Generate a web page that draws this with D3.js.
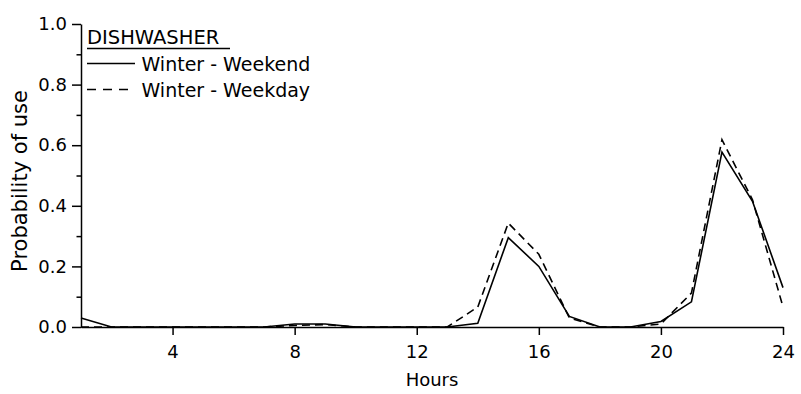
<!DOCTYPE html>
<html>
<head>
<meta charset="utf-8">
<script src="https://cdn.jsdelivr.net/npm/d3@7"></script>
<style>
  body { margin: 0; background: #fff; }
  svg { font-family: "DejaVu Sans", sans-serif; }
</style>
</head>
<body>
<div id="chart"></div>
<script>
// data
var hours = [1, 2, 3, 4, 5, 6, 7, 8, 9, 10, 11, 12, 13, 14, 15, 16, 17, 18, 19, 20, 21, 22, 23, 24];
var weekend = [0.03, 0, 0, 0, 0, 0, 0, 0.01, 0.01, 0, 0, 0, 0, 0.012, 0.295, 0.2, 0.035, 0, 0, 0.018, 0.083, 0.577, 0.415, 0.13];
var weekday = [0, 0, 0, 0, 0, 0, 0, 0.005, 0.008, 0, 0, 0, 0, 0.066, 0.343, 0.24, 0.03, 0, 0, 0.01, 0.112, 0.618, 0.42, 0.066];
var xTicks = [4, 8, 12, 16, 20, 24];
var yTicks = [0, 0.2, 0.4, 0.6, 0.8, 1.0];
var yMinor = [0.1, 0.3, 0.5, 0.7, 0.9];

// set the dimensions and margins of the graph
var margin = { top: 24, right: 18, bottom: 67, left: 81 },
  width = 801 - margin.left - margin.right,
  height = 394 - margin.top - margin.bottom;

var svg = d3.select("#chart")
  .append("svg")
  .attr("width", 801)
  .attr("height", 394)
  .append("g")
  .attr("transform", "translate(" + margin.left + "," + margin.top + ")");

var x = d3.scaleLinear().domain([1, 24]).range([0, width]);
var y = d3.scaleLinear().domain([0, 1]).range([height, 0]);

// minor y ticks
svg.append("g")
  .call(d3.axisLeft(y).tickValues(yMinor).tickSize(4.5).tickFormat("").tickSizeOuter(0))
  .call(g => g.select(".domain").remove())
  .selectAll("line").attr("stroke-width", 1.5);

// y axis
var yAxis = svg.append("g")
  .call(d3.axisLeft(y).tickValues(yTicks).tickSize(9).tickPadding(5)
    .tickFormat(d3.format(".1f")).tickSizeOuter(0));
yAxis.selectAll("text").attr("font-size", 18).attr("font-family", "DejaVu Sans").attr("fill", "#000");
yAxis.selectAll("line").attr("stroke-width", 1.5);
yAxis.select(".domain").attr("stroke-width", 1.5);

// x axis
var xAxis = svg.append("g")
  .attr("transform", "translate(0," + height + ")")
  .call(d3.axisBottom(x).tickValues(xTicks).tickSize(8).tickPadding(10).tickSizeOuter(0));
xAxis.selectAll("text").attr("font-size", 18).attr("font-family", "DejaVu Sans").attr("fill", "#000");
xAxis.selectAll("line").attr("stroke-width", 1.5);
xAxis.select(".domain").attr("stroke-width", 1.5);

// axis titles
svg.append("text")
  .attr("x", width / 2)
  .attr("y", height + 59)
  .attr("text-anchor", "middle")
  .attr("font-size", 18)
  .text("Hours");

svg.append("text")
  .attr("transform", "translate(" + (26.5 - margin.left) + "," + (181 - margin.top) + ") rotate(-90)")
  .attr("text-anchor", "middle")
  .attr("font-size", 21)
  .text("Probability of use");

// lines
var line = d3.line()
  .x(function (d) { return x(d[0]); })
  .y(function (d) { return y(d[1]); });

svg.append("path")
  .datum(d3.zip(hours, weekday))
  .attr("d", line)
  .attr("fill", "none")
  .attr("stroke", "#000")
  .attr("stroke-width", 1.6)
  .attr("stroke-dasharray", "8,5");

svg.append("path")
  .datum(d3.zip(hours, weekend))
  .attr("d", line)
  .attr("fill", "none")
  .attr("stroke", "#000")
  .attr("stroke-width", 1.6);

// legend
var legend = svg.append("g").attr("transform", "translate(6,0)");
legend.append("text")
  .attr("x", 0)
  .attr("y", 20)
  .attr("font-size", 19.5)
  .text("DISHWASHER");
legend.append("line")
  .attr("x1", 0).attr("x2", 143)
  .attr("y1", 24.5).attr("y2", 24.5)
  .attr("stroke", "#000").attr("stroke-width", 1.5);

var items = [["Winter - Weekend", null], ["Winter - Weekday", "9,7"]];
items.forEach(function (it, i) {
  var yy = 39.5 + i * 26;
  legend.append("line")
    .attr("x1", 0).attr("x2", 48)
    .attr("y1", yy).attr("y2", yy)
    .attr("stroke", "#000").attr("stroke-width", 1.5)
    .attr("stroke-dasharray", it[1]);
  legend.append("text")
    .attr("x", 54.5)
    .attr("y", yy + 7.5)
    .attr("font-size", 19)
    .text(it[0]);
});
</script>
</body>
</html>
